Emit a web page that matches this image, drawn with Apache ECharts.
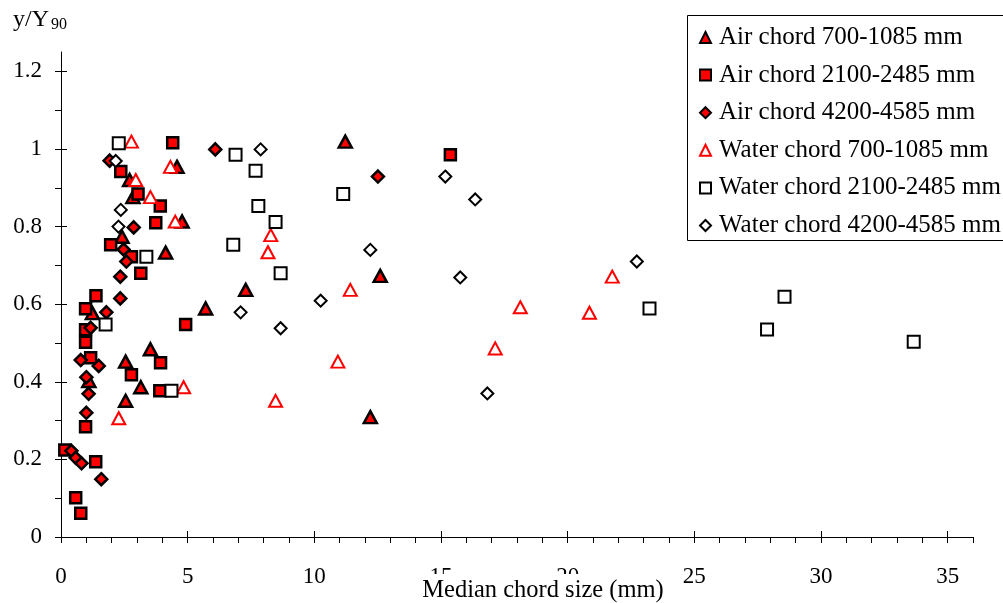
<!DOCTYPE html>
<html>
<head>
<meta charset="utf-8">
<script src="https://cdn.jsdelivr.net/npm/echarts@6/dist/echarts.min.js"></script>
<style>
html,body{margin:0;padding:0;background:#fff;}
#chart{width:1003px;height:603px;}
</style>
</head>
<body>
<div id="chart"></div>
<script>
// ---- Data (x: median chord size in mm, y: y/Y90) ----
const seriesNames = [
  'Air chord 700-1085 mm',
  'Air chord 2100-2485 mm',
  'Air chord 4200-4585 mm',
  'Water chord 700-1085 mm',
  'Water chord 2100-2485 mm',
  'Water chord 4200-4585 mm'
];
const airChord700 = [
  [2.71,0.920],[4.58,0.954],[2.84,0.876],[4.78,0.813],[2.41,0.774],[4.13,0.733],
  [1.24,0.577],[5.71,0.589],[3.53,0.484],[2.55,0.452],[1.10,0.402],[3.15,0.386],
  [2.55,0.351],[11.22,1.019],[12.60,0.673],[7.29,0.637],[12.21,0.309]
];
const airChord2100 = [
  [4.41,1.016],[2.36,0.942],[3.04,0.884],[3.92,0.853],[3.74,0.810],[1.96,0.753],
  [2.78,0.722],[3.15,0.680],[1.38,0.622],[0.97,0.588],[0.97,0.534],[0.97,0.502],
  [4.92,0.548],[3.93,0.449],[1.17,0.462],[2.78,0.418],[3.90,0.377],[0.97,0.284],
  [0.15,0.224],[1.37,0.194],[0.58,0.101],[0.78,0.061],[15.37,0.985]
];
const airChord4200 = [
  [6.09,0.999],[1.92,0.970],[2.87,0.798],[2.47,0.741],[2.58,0.710],[2.34,0.671],
  [2.34,0.615],[1.79,0.579],[1.17,0.539],[0.78,0.456],[1.49,0.441],[1.00,0.412],
  [1.09,0.369],[1.00,0.320],[0.41,0.222],[0.58,0.204],[0.81,0.190],[1.59,0.149],
  [12.51,0.929]
];
const waterChord700 = [
  [2.78,1.019],[2.95,0.920],[4.32,0.954],[3.53,0.876],[4.51,0.813],[2.28,0.306],
  [4.84,0.386],[8.28,0.778],[8.17,0.734],[11.42,0.637],[10.93,0.452],[8.47,0.351],
  [18.13,0.592],[20.86,0.578],[21.76,0.671],[17.14,0.486]
];
const waterChord2100 = [
  [2.28,1.015],[3.37,0.722],[1.76,0.548],[4.36,0.377],[6.89,0.985],[7.68,0.944],
  [7.79,0.853],[8.47,0.812],[6.80,0.753],[8.67,0.680],[11.14,0.884],[23.23,0.589],
  [28.56,0.619],[27.87,0.535],[33.66,0.503]
];
const waterChord4200 = [
  [2.16,0.969],[2.36,0.843],[2.27,0.800],[7.88,0.999],[7.09,0.579],[8.67,0.538],
  [10.25,0.609],[12.21,0.740],[15.17,0.929],[16.35,0.870],[15.76,0.669],[16.83,0.370],
  [22.73,0.710]
];

// ---- Axis ticks ----
const xMajorTicks = [0,5,10,15,20,25,30,35];
const xMinorTicks = [0,1,2,3,4,5,6,7,8,9,10,11,12,13,14,15,16,17,18,19,20,21,22,23,24,25,26,27,28,29,30,31,32,33,34,35,36];
const yMajorTicks = [0,0.2,0.4,0.6,0.8,1,1.2];
const yMinorTicks = [0,0.1,0.2,0.3,0.4,0.5,0.6,0.7,0.8,0.9,1,1.1,1.2];
const xTitle = 'Median chord size (mm)';

const FONT = "'Liberation Serif','Times New Roman',serif";
const chart = echarts.init(document.getElementById('chart'), null, {renderer:'canvas'});

const axisCommon = {
  type: 'value',
  axisLine: {show: true, onZero: false, lineStyle: {color: '#000', width: 1}},
  splitLine: {show: false},
};

const seriesStyles = [
  {symbol:'triangle', symbolSize:[13,12], itemStyle:{color:'#ff0000', borderColor:'#000', borderWidth:2.5, opacity:1}},
  {symbol:'rect', symbolSize:11, itemStyle:{color:'#ff0000', borderColor:'#000', borderWidth:2.5, opacity:1}},
  {symbol:'diamond', symbolSize:12, itemStyle:{color:'#ff0000', borderColor:'#000', borderWidth:2.5, opacity:1}},
  {symbol:'triangle', symbolSize:[13,12], itemStyle:{color:'#ffffff', borderColor:'#ff0000', borderWidth:2, opacity:1}},
  {symbol:'rect', symbolSize:12, itemStyle:{color:'#ffffff', borderColor:'#000', borderWidth:2, opacity:1}},
  {symbol:'diamond', symbolSize:12, itemStyle:{color:'#ffffff', borderColor:'#000', borderWidth:2, opacity:1}}
];
const seriesData = [airChord700, airChord2100, airChord4200, waterChord700, waterChord2100, waterChord4200];

const option = {
  animation: false,
  backgroundColor: '#fff',
  grid: {left: 61, top: 52, width: 912, height: 485, containLabel: false},
  xAxis: [
    Object.assign({}, axisCommon, {
      min: 0, max: 36, position: 'bottom',
      axisTick: {show: true, inside: false, length: 6, lineStyle:{color:'#000'}, customValues: xMinorTicks},
      axisLabel: {show: true, margin: 28, color:'#000', fontFamily: FONT, fontSize: 23, customValues: xMajorTicks}
    }),
    Object.assign({}, axisCommon, {
      min: 0, max: 36, position: 'bottom',
      axisLine: {show: false, onZero: false},
      axisTick: {show: true, inside: true, length: 6, lineStyle:{color:'#000'}, customValues: xMajorTicks},
      axisLabel: {show: false}
    })
  ],
  yAxis: [
    Object.assign({}, axisCommon, {
      min: 0, max: 1.25, position: 'left',
      axisTick: {show: true, inside: false, length: 6, lineStyle:{color:'#000'}, customValues: yMinorTicks},
      axisLabel: {show: true, margin: 19, color:'#000', fontFamily: FONT, fontSize: 23, customValues: yMajorTicks}
    }),
    Object.assign({}, axisCommon, {
      min: 0, max: 1.25, position: 'left',
      axisLine: {show: false, onZero: false},
      axisTick: {show: true, inside: true, length: 6, lineStyle:{color:'#000'}, customValues: yMajorTicks},
      axisLabel: {show: false}
    })
  ],
  legend: {
    orient: 'vertical', left: 687, top: 15, z: 10,
    padding: [10, 60, 9, 12], itemGap: 12.6, itemWidth: 11, itemHeight: 11,
    borderWidth: 0, backgroundColor: 'transparent',
    textStyle: {fontFamily: FONT, fontSize: 25, color: '#000', lineHeight: 25, padding: [0,0,0,3]},
    itemStyle: {borderWidth: 2},
    data: seriesNames
  },
  graphic: [
    {type:'rect', x: 687.5, y: 15.5, z: 5, shape: {width: 340, height: 225},
     style: {fill: '#fff', stroke: '#000', lineWidth: 1}},
    {type:'text', x: 543, y: 591, z: 100,
     style: {text: xTitle, font: "24.5px " + FONT, fill:'#000', align:'center', verticalAlign:'middle',
             backgroundColor:'#fff', padding:[7,2,2,2]}},
    {type:'text', x: 13, y: 20, z: 100,
     style: {text: 'y/Y', font: "24px " + FONT, fill:'#000', align:'left', verticalAlign:'middle'}},
    {type:'text', x: 51, y: 25, z: 100,
     style: {text: '90', font: "16px " + FONT, fill:'#000', align:'left', verticalAlign:'middle'}}
  ],
  series: seriesNames.map((name, i) => Object.assign({
    name: name, type: 'scatter', xAxisIndex: 0, yAxisIndex: 0,
    data: seriesData[i], emphasis: {disabled: true}
  }, seriesStyles[i]))
};
chart.setOption(option);
</script>
</body>
</html>
